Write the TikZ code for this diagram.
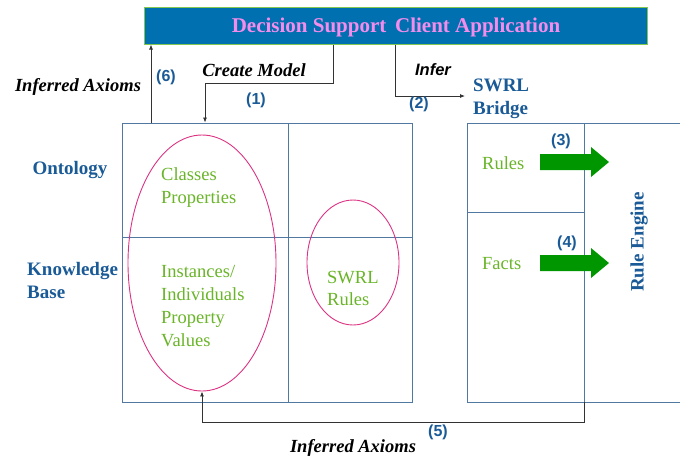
\documentclass[tikz,border=0pt]{standalone}
\usepackage{fontspec}
\setmainfont{Liberation Serif}
\newfontfamily\sansf{Liberation Sans}
\usetikzlibrary{shapes.geometric,arrows.meta}
\definecolor{bannerblue}{RGB}{0,112,176}
\definecolor{bannerborder}{RGB}{130,200,80}
\definecolor{bannertext}{RGB}{245,140,235}
\definecolor{boxline}{RGB}{80,120,160}
\definecolor{ellline}{RGB}{220,50,130}
\definecolor{labelblue}{RGB}{26,90,150}
\definecolor{itemgreen}{RGB}{105,180,40}
\definecolor{bigarrow}{RGB}{0,150,0}
\tikzset{
  boxl/.style={draw=boxline, line width=0.9pt},
  ell/.style={draw=ellline, line width=0.9pt, ellipse, inner sep=0pt},
  conn/.style={draw=black!80, line width=0.8pt},
  tip/.style={-{Latex[length=5pt,width=4pt]}},
  num/.style={font=\sansf\bfseries\fontsize{16}{18}\selectfont, text=labelblue, inner sep=0pt},
  blab/.style={font=\bfseries\fontsize{19}{23.5}\selectfont, text=labelblue, inner sep=0pt, align=left},
  ital/.style={font=\bfseries\itshape\fontsize{18.5}{22}\selectfont, inner sep=0pt},
  item/.style={font=\fontsize{18.5}{22.7}\selectfont, text=itemgreen, inner sep=0pt, align=left},
}
\begin{document}
\begin{tikzpicture}[x=1pt,y=-1pt]
\useasboundingbox (0,0) rectangle (680,459);
% banner
\node[draw=bannerborder, fill=bannerblue, line width=1pt, minimum width=503pt, minimum height=37pt, inner sep=0pt] (app) at (395.5,25.5) {};
\node[font=\bfseries\fontsize{21}{24}\selectfont, text=bannertext, inner sep=0pt] (apptxt) at (396,27) {Decision Support\, Client Application};
% left box (ontology / knowledge base)
\node[boxl, minimum width=290pt, minimum height=279pt, inner sep=0pt] (kb) at (267,262.5) {};
\coordinate (kbmidtop) at (288,123);
\coordinate (kbmidbot) at (288,402);
\coordinate (kbleftmid) at (122,237);
\coordinate (kbrightmid) at (412,237);
\draw[boxl] (kbmidtop) -- (kbmidbot);
\draw[boxl] (kbleftmid) -- (kbrightmid);
% right box (SWRL bridge / rule engine)
\coordinate (rbtl) at (467,123);
\coordinate (rbtr) at (680,123);
\coordinate (rbbl) at (467,402);
\coordinate (rbbr) at (680,402);
\coordinate (rbmidtop) at (584,123);
\coordinate (rbmidbot) at (584,402);
\coordinate (rbleftmid) at (467,212);
\coordinate (rbmid) at (584,212);
\draw[boxl] (rbtr) -- (rbtl) -- (rbbl) -- (rbbr);
\draw[boxl] (rbmidtop) -- (rbmidbot);
\draw[boxl] (rbleftmid) -- (rbmid);
% ellipses
\node[ell, minimum width=148pt, minimum height=256pt] (bigell) at (202,263) {};
\node[ell, minimum width=92pt, minimum height=125pt] (smallell) at (353,262.5) {};
% texts in left box
\node[item, anchor=west] (classes) at (161,187.5) {Classes\\Properties};
\node[item, anchor=west] (inst) at (161,306) {Instances/\\Individuals\\Property\\Values};
\node[item, anchor=west] (swrlr) at (327,288.5) {SWRL\\Rules};
% left labels
\node[blab] (onto) at (70,170) {Ontology};
\node[blab, anchor=west] (kbl) at (27,280.5) {Knowledge\\Base};
% right box texts
\node[item, anchor=west] (rules) at (482,163) {Rules};
\node[item, anchor=west] (facts) at (482,264) {Facts};
\node[blab, rotate=90] (engine) at (639,242) {Rule Engine};
\node[blab, anchor=west] (bridge) at (473,99) {SWRL\\Bridge};
% green arrows
\fill[bigarrow] (540,154) -- (591,154) -- (591,147) -- (609,162) -- (591,177) -- (591,170) -- (540,170) -- cycle;
\fill[bigarrow] (540,255) -- (591,255) -- (591,248) -- (609,263) -- (591,278) -- (591,271) -- (540,271) -- cycle;
\node[num] (n3) at (561,141) {(3)};
\node[num] (n4) at (567,243) {(4)};
% connector (1) create model
\coordinate (c1a) at (333,83);
\coordinate (c1b) at (205,83);
\draw[conn, tip] (app.south -| c1a) -- (c1a) -- (c1b) -- (kb.north -| c1b);
\node[ital] (create) at (254,70) {Create Model};
\node[num] (n1) at (256,100) {(1)};
% connector (2) infer
\coordinate (c2a) at (395,96);
\coordinate (c2b) at (465,96);
\draw[conn, tip] (app.south -| c2a) -- (c2a) -- (c2b);
\node[font=\sansf\bfseries\itshape\fontsize{16.5}{19}\selectfont, inner sep=0pt] (infer) at (433,70) {Infer};
\node[num] (n2) at (419,104) {(2)};
% connector (6)
\coordinate (c6) at (151,123);
\draw[conn, tip] (c6) -- (app.south -| c6);
\node[ital] (ia1) at (78,87) {Inferred Axioms};
\node[num] (n6) at (166,77) {(6)};
% connector (5)
\coordinate (c5a) at (584,422);
\coordinate (c5b) at (202,422);
\draw[conn, tip] (rbmidbot) -- (c5a) -- (c5b) -- (bigell.south);
\node[num] (n5) at (438,432) {(5)};
\node[ital] (ia2) at (353,448) {Inferred Axioms};
\end{tikzpicture}
\end{document}
